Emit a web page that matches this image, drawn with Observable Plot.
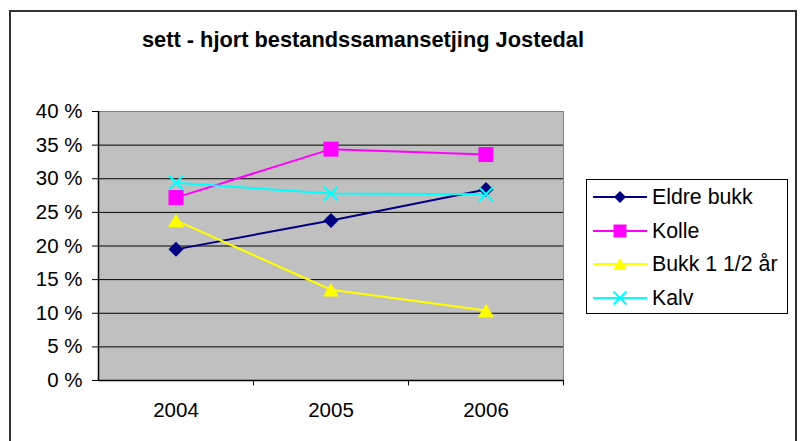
<!DOCTYPE html>
<html><head><meta charset="utf-8">
<script src="https://cdn.jsdelivr.net/npm/d3@7"></script>
<script src="https://cdn.jsdelivr.net/npm/@observablehq/plot@0.6"></script>
<style>
body{margin:0;background:#fff;font-family:"Liberation Sans",Arial,sans-serif;}
#wrap{position:relative;width:800px;height:441px;overflow:hidden;background:#fff}
#border{position:absolute;left:9px;top:10px;height:470px;border:2px solid #333;border-bottom:none;box-sizing:border-box;width:788px}
#title{position:absolute;left:0;width:726px;top:27px;text-align:center;font-weight:bold;font-size:21.8px;color:#000}
#chart{position:absolute;left:0;top:0}
#legend{position:absolute;left:586px;top:179px;width:202px;height:135px;border:1px solid #000;background:#fff;box-sizing:border-box}
.row{position:absolute;left:0;height:34px;width:200px}
.row svg{position:absolute;left:5px;top:0}
.row span{position:absolute;left:65px;top:5px;font-size:21.3px;color:#000;white-space:nowrap}
</style></head>
<body>
<div id="wrap">
  <div id="border"></div>
  <div id="chart"></div>
  <div id="title">sett - hjort bestandssamansetjing Jostedal</div>
  <div id="legend"></div>
</div>
<script>
const years = [2004, 2005, 2006];
const seriesNames = ["Eldre bukk", "Kolle", "Bukk 1 1/2 år", "Kalv"];
const eldreBukk = [19.5, 23.8, 28.4];
const kolle = [27.2, 34.4, 33.6];
const bukk = [23.8, 13.5, 10.4];
const kalv = [29.4, 27.8, 27.7];
const yTicks = [0, 5, 10, 15, 20, 25, 30, 35, 40];
const colors = ["#000080", "#ff00ff", "#ffff00", "#00ffff"];

const rad = s => Math.sqrt(s / Math.PI);
const symDiamond = {draw(c, s){const r = rad(s); c.moveTo(0,-r); c.lineTo(r,0); c.lineTo(0,r); c.lineTo(-r,0); c.closePath();}};
const symSquare = {draw(c, s){const r = rad(s); c.rect(-r,-r,2*r,2*r);}};
const symTriangle = {draw(c, s){const r = rad(s); c.moveTo(0,-0.85*r); c.lineTo(r,0.85*r); c.lineTo(-r,0.85*r); c.closePath();}};
const symTimes = {draw(c, s){const r = rad(s); c.moveTo(-r,-r); c.lineTo(r,r); c.moveTo(r,-r); c.lineTo(-r,r);}};
const symbols = [symDiamond, symSquare, symTriangle, symTimes];
const sizes = [7.5, 7.5, 8, 7];
const values = [eldreBukk, kolle, bukk, kalv];

const data = seriesNames.map((name, i) => years.map((yr, j) => ({series: name, year: yr, value: values[i][j]})));
const bounds = years.map(y => y + 0.5);

const marks = [
  Plot.frame({fill: "#c0c0c0", stroke: "#808080"}),
  Plot.ruleY(yTicks.filter(d => d > 0 && d < 40), {stroke: "#000", strokeWidth: 1}),
  Plot.axisY({ticks: yTicks, tickFormat: d => d + " %", tickSize: 6, tickPadding: 10, label: null, color: "#000"}),
  Plot.axisX({ticks: years, tickFormat: d => String(d), tickSize: 0, tickPadding: 22, label: null, color: "#000"}),
  Plot.ruleX(bounds, {y1: () => 0, y2: () => -0.8, stroke: "#000"}),
  Plot.ruleX([years[0] - 0.5], {stroke: "#000", strokeWidth: 1.5}),
  Plot.ruleY([0], {stroke: "#000", strokeWidth: 1.5})
];
data.forEach((d, i) => {
  marks.push(Plot.line(d, {x: "year", y: "value", stroke: colors[i], strokeWidth: 2}));
});
data.forEach((d, i) => {
  const isX = i === 3;
  marks.push(Plot.dot(d, {x: "year", y: "value", symbol: symbols[i], r: sizes[i],
    fill: isX ? "none" : colors[i], stroke: isX ? colors[i] : "none", strokeWidth: 2}));
});

const chart = Plot.plot({
  width: 800, height: 441,
  marginLeft: 98, marginRight: 237, marginTop: 111, marginBottom: 61,
  x: {domain: [years[0] - 0.5, years[years.length - 1] + 0.5]},
  y: {domain: [0, 40]},
  style: {fontFamily: "'Liberation Sans', Arial, sans-serif", fontSize: "20.5px", background: "transparent", color: "#000"},
  marks
});
document.getElementById("chart").appendChild(chart);

const legend = document.getElementById("legend");
seriesNames.forEach((name, i) => {
  const row = document.createElement("div");
  row.className = "row";
  row.style.top = (i * 33.6) + "px";
  const isX = i === 3;
  const r = [6, 6.5, 7, 6.5][i];
  const path = d3.symbol(symbols[i], Math.PI * r * r)();
  row.innerHTML = `<svg width="56" height="34"><line x1="1" x2="55" y1="17" y2="17" stroke="${colors[i]}" stroke-width="2"/>` +
    `<path transform="translate(28,17)" d="${path}" fill="${isX ? "none" : colors[i]}" stroke="${isX ? colors[i] : "none"}" stroke-width="2"/></svg>` +
    `<span>${name}</span>`;
  legend.appendChild(row);
});
</script>
</body></html>
